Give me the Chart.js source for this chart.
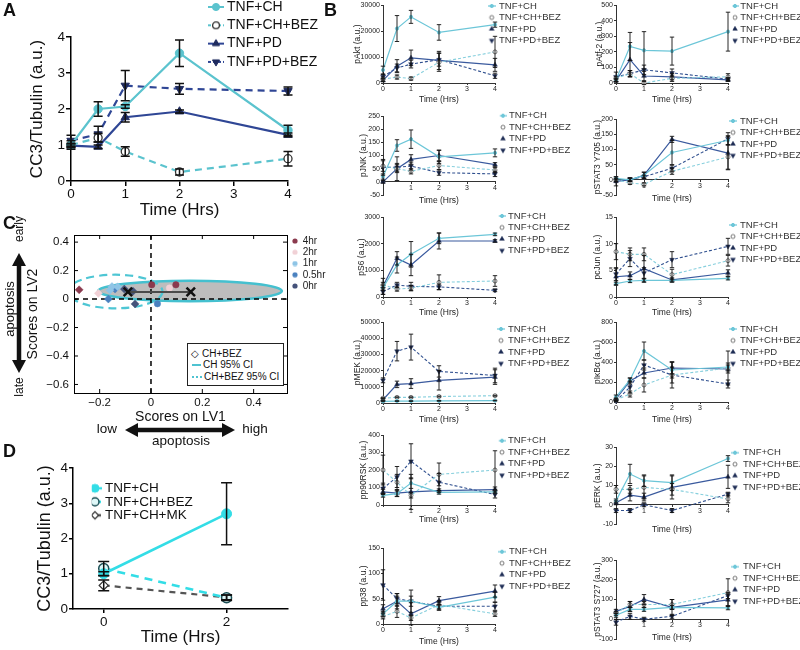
<!DOCTYPE html>
<html><head><meta charset="utf-8"><title>CC3 / signalling figure</title>
<script src="https://cdn.jsdelivr.net/npm/chart.js"></script>
<style>
html,body{margin:0;padding:0;background:#fff;}
#wrap{position:relative;width:800px;height:650px;overflow:hidden;background:#fff;font-family:"Liberation Sans",Arial,sans-serif;color:#111;}
#wrap canvas{position:absolute;}
.t{position:absolute;white-space:nowrap;line-height:1;z-index:5;}
.c{transform:translate(-50%,-50%);}
.r{transform:translate(-50%,-50%) rotate(-90deg);}
.v{transform:translateY(-50%);}
.pl{position:absolute;font-weight:bold;font-size:18px;line-height:1;z-index:5;}
#cleg{position:absolute;left:187px;top:343px;width:95px;height:41px;border:1px solid #222;background:#fff;font-size:10px;z-index:5;}
</style></head><body>
<div id="wrap">
 <div class="pl" style="left:3px;top:1px">A</div>
 <div class="pl" style="left:324px;top:1px">B</div>
 <div class="pl" style="left:3px;top:214px">C</div>
 <div class="pl" style="left:3px;top:442px">D</div>
 <div class="t r" style="left:19px;top:229px;font-size:12px">early</div>
 <div class="t r" style="left:9px;top:309px;font-size:13px">apoptosis</div>
 <div class="t r" style="left:19px;top:387px;font-size:12px">late</div>
 <div class="t c" style="left:107px;top:429px;font-size:13.5px">low</div>
 <div class="t c" style="left:255px;top:429px;font-size:13.5px">high</div>
 <div class="t c" style="left:181px;top:441px;font-size:13.5px">apoptosis</div>
 <div id="cleg">
   <div class="t v" style="left:3px;top:10px;font-size:10px;font-family:'DejaVu Sans'">&#9671;</div>
   <div class="t v" style="left:14px;top:10px">CH+BEZ</div>
   <div style="position:absolute;left:4px;top:20px;width:9px;border-top:2px solid #4ec3d1"></div>
   <div class="t v" style="left:15px;top:21px">CH 95% CI</div>
   <div style="position:absolute;left:4px;top:32px;width:10px;border-top:2px dotted #4ec3d1"></div>
   <div class="t v" style="left:16px;top:33px">CH+BEZ 95% CI</div>
 </div>
</div>
<script>
// ================= DATA =================
const hours = [0, 0.5, 1, 2, 4];
const seriesNames = ['TNF+CH', 'TNF+CH+BEZ', 'TNF+PD', 'TNF+PD+BEZ'];
const B_xticks = [0, 1, 2, 3, 4];

// Panel A : CC3/Tubulin
const A_xticks = [0, 1, 2, 3, 4];
const A_yticks = [0, 1, 2, 3, 4];
const A_CH = [1.0, 2.0, 2.07, 3.55, 1.41];
const A_CH_err = [0.05, 0.2, 0.05, 0.37, 0.14];
const A_CHBEZ = [1.0, 1.2, 0.82, 0.25, 0.62];
const A_CHBEZ_err = [0.12, 0.12, 0.13, 0.08, 0.2];
const A_PD = [0.98, 0.95, 1.77, 1.93, 1.28];
const A_PD_err = [0.05, 0.05, 0.13, 0.04, 0.05];
const A_PDBEZ = [1.12, 1.3, 2.65, 2.56, 2.5];
const A_PDBEZ_err = [0.15, 0.22, 0.42, 0.15, 0.11];

// Panel D
const D_hours = [0, 2];
const D_xticks = [0, 2];
const D_yticks = [0, 1, 2, 3, 4];
const D_names = ['TNF+CH', 'TNF+CH+BEZ', 'TNF+CH+MK'];
const D_CH = [1.0, 2.7];
const D_CH_err = [0.06, 0.88];
const D_CHBEZ = [1.15, 0.32];
const D_CHBEZ_err = [0.2, 0.08];
const D_CHMK = [0.67, 0.33];
const D_CHMK_err = [0.15, 0.07];

// Panel C : PLS scores
const C_times = ['4hr', '2hr', '1hr', '0.5hr', '0hr'];
const C_BEZ_4hr = [[-0.28, 0.065]];
const C_CH_4hr = [[0.003, 0.1], [0.097, 0.1]];
const C_BEZ_2hr = [[-0.205, 0.04]];
const C_CH_2hr = [[0.072, 0.078]];
const C_BEZ_1hr = [[-0.152, 0.088], [-0.13, 0.086], [-0.16, 0.062]];
const C_CH_1hr = [];
const C_BEZ_05hr = [[-0.166, 0.0], [-0.14, 0.07]];
const C_CH_05hr = [[0.025, -0.033]];
const C_BEZ_0hr = [[-0.104, 0.07], [-0.062, -0.034], [-0.07, 0.055]];
const C_CH_0hr = [];
const C_centroids = [[-0.09, 0.05], [0.155, 0.05]];
const C_ellipse_CH = [0.152, 0.057, 0.358, 0.072];   // centre x, centre y, half-width, half-height
const C_ellipse_BEZ = [-0.139, 0.053, 0.184, 0.118];
const C_xticks = [-0.2, 0, 0.2, 0.4];
const C_yticks = [-0.6, -0.4, -0.2, 0, 0.2, 0.4];

// Panel B
const pAkt_ticks = [0, 10000, 20000, 30000];
const pAkt_CH = [5000, 21000, 25500, 19500, 22500];
const pAkt_CH_e = [1500, 5000, 2500, 3000, 1000];
const pAkt_CHBEZ = [1500, 2300, 1700, 8000, 12000];
const pAkt_CHBEZ_e = [800, 800, 600, 3500, 6000];
const pAkt_PD = [1000, 6500, 9700, 8700, 7000];
const pAkt_PD_e = [500, 2500, 3000, 3500, 2500];
const pAkt_PDBEZ = [2500, 5800, 7300, 9000, 2800];
const pAkt_PDBEZ_e = [800, 1500, 1500, 2500, 1000];

const pAtf2_ticks = [0, 100, 200, 300, 400, 500];
const pAtf2_CH = [20, 235, 210, 205, 330];
const pAtf2_CH_e = [10, 90, 120, 90, 125];
const pAtf2_CHBEZ = [30, 60, 0, 30, 40];
const pAtf2_CHBEZ_e = [10, 20, 10, 20, 20];
const pAtf2_PD = [15, 150, 45, 40, 20];
const pAtf2_PD_e = [10, 110, 30, 20, 10];
const pAtf2_PDBEZ = [40, 60, 85, 65, 25];
const pAtf2_PDBEZ_e = [30, 20, 30, 25, 10];

const pJNK_ticks = [-50, 0, 50, 100, 150, 200, 250];
const pJNK_CH = [20, 138, 162, 95, 110];
const pJNK_CH_e = [10, 22, 35, 25, 15];
const pJNK_CHBEZ = [60, 50, 40, 62, 45];
const pJNK_CHBEZ_e = [20, 15, 10, 15, 10];
const pJNK_PD = [0, 50, 85, 100, 65];
const pJNK_PD_e = [5, 45, 18, 20, 8];
const pJNK_PDBEZ = [55, 55, 60, 35, 30];
const pJNK_PDBEZ_e = [30, 15, 15, 10, 10];

const pY705_ticks = [-50, 0, 50, 100, 150, 200];
const pY705_CH = [5, 0, 15, 90, 130];
const pY705_CH_e = [5, 5, 10, 40, 15];
const pY705_CHBEZ = [0, -10, -15, 28, 75];
const pY705_CHBEZ_e = [5, 5, 5, 10, 40];
const pY705_PD = [-5, 0, 15, 133, 88];
const pY705_PD_e = [15, 5, 10, 10, 55];
const pY705_PDBEZ = [-2, 2, 10, 38, 135];
const pY705_PDBEZ_e = [5, 5, 5, 10, 20];

const pS6_ticks = [0, 1000, 2000, 3000];
const pS6_CH = [350, 1200, 1600, 2200, 2350];
const pS6_CH_e = [100, 300, 480, 200, 50];
const pS6_CHBEZ = [450, 300, 330, 550, 600];
const pS6_CHBEZ_e = [100, 80, 100, 280, 200];
const pS6_PD = [400, 1450, 1200, 2100, 2100];
const pS6_PD_e = [300, 250, 400, 300, 50];
const pS6_PDBEZ = [200, 450, 400, 380, 250];
const pS6_PDBEZ_e = [100, 100, 150, 100, 50];

const pcJun_ticks = [0, 5, 10, 15];
const pcJun_CH = [2.5, 3.0, 3.1, 3.1, 3.5];
const pcJun_CH_e = [0.3, 0.3, 0.3, 0.3, 0.3];
const pcJun_CHBEZ = [8.5, 8.0, 8.0, 4.2, 6.8];
const pcJun_CHBEZ_e = [1.5, 1.2, 1.2, 1.0, 1.0];
const pcJun_PD = [3.8, 4.0, 5.3, 3.2, 4.5];
const pcJun_PD_e = [1.5, 0.7, 2.5, 0.4, 0.6];
const pcJun_PDBEZ = [4.3, 7.2, 4.5, 7.0, 9.5];
const pcJun_PDBEZ_e = [1.2, 1.5, 1.0, 1.5, 1.5];

const pMEK_ticks = [0, 10000, 20000, 30000, 40000, 50000];
const pMEK_CH = [1000, 1200, 1200, 1300, 1500];
const pMEK_CH_e = [200, 200, 200, 200, 200];
const pMEK_CHBEZ = [3000, 3500, 3500, 4000, 4500];
const pMEK_CHBEZ_e = [300, 300, 300, 300, 300];
const pMEK_PD = [2000, 11500, 12000, 14000, 16000];
const pMEK_PD_e = [500, 2000, 3000, 6000, 4500];
const pMEK_PDBEZ = [14000, 32000, 34500, 19500, 17000];
const pMEK_PDBEZ_e = [1500, 6000, 8000, 3500, 4500];

const pIkBa_ticks = [0, 200, 400, 600, 800];
const pIkBa_CH = [50, 220, 510, 320, 350];
const pIkBa_CH_e = [20, 20, 90, 80, 40];
const pIkBa_CHBEZ = [20, 80, 170, 270, 340];
const pIkBa_CHBEZ_e = [10, 30, 70, 130, 170];
const pIkBa_PD = [30, 210, 290, 340, 330];
const pIkBa_PD_e = [10, 30, 50, 60, 40];
const pIkBa_PDBEZ = [10, 150, 370, 270, 180];
const pIkBa_PDBEZ_e = [5, 60, 50, 80, 40];

const pRSK_ticks = [0, 100, 200, 300, 400];
const pRSK_CH = [55, 65, 125, 72, 75];
const pRSK_CH_e = [10, 15, 30, 10, 10];
const pRSK_CHBEZ = [200, 130, 55, 175, 200];
const pRSK_CHBEZ_e = [85, 45, 15, 65, 110];
const pRSK_PD = [75, 68, 75, 82, 88];
const pRSK_PD_e = [15, 20, 100, 10, 15];
const pRSK_PDBEZ = [95, 160, 250, 130, 60];
const pRSK_PDBEZ_e = [30, 60, 100, 50, 20];

const pERK_ticks = [-10, 0, 10, 20, 30];
const pERK_CH = [2, 16, 12.5, 11.5, 24];
const pERK_CH_e = [1, 5, 3, 4, 1.5];
const pERK_CHBEZ = [8, 8, 9, 8, 3];
const pERK_CHBEZ_e = [2, 2, 6, 3, 2];
const pERK_PD = [1, 5, 4, 9, 14.5];
const pERK_PD_e = [1, 3, 2, 6, 6];
const pERK_PDBEZ = [-3, -3, 0, -3, 5.5];
const pERK_PDBEZ_e = [1, 1, 1, 1, 1];

const pp38_ticks = [0, 50, 100, 150];
const pp38_CH = [20, 45, 45, 33, 53];
const pp38_CH_e = [5, 10, 10, 5, 10];
const pp38_CHBEZ = [15, 25, 12, 38, 20];
const pp38_CHBEZ_e = [5, 12, 5, 8, 5];
const pp38_PD = [30, 45, 20, 46, 65];
const pp38_PD_e = [8, 15, 22, 8, 12];
const pp38_PDBEZ = [77, 50, 45, 35, 35];
const pp38_PDBEZ_e = [30, 10, 22, 8, 8];

const pS727_ticks = [-100, 0, 100, 200, 300];
const pS727_CH = [20, 50, 50, 60, 58];
const pS727_CH_e = [10, 10, 10, 10, 10];
const pS727_CHBEZ = [30, 75, 75, 75, 135];
const pS727_CHBEZ_e = [10, 15, 15, 25, 70];
const pS727_PD = [40, 65, 100, 60, 98];
const pS727_PD_e = [10, 25, 25, 40, 30];
const pS727_PDBEZ = [-15, 15, 0, 15, 120];
const pS727_PDBEZ_e = [15, 15, 10, 10, 15];

// ================= HELPERS =================
Chart.defaults.font.family = '"Liberation Sans", Arial, sans-serif';
Chart.defaults.color = '#111';
const wrap = document.getElementById('wrap');

function makeCanvas(box) {
  const c = document.createElement('canvas');
  c.width = box.w; c.height = box.h;
  c.style.left = box.x + 'px'; c.style.top = box.y + 'px';
  c.style.width = box.w + 'px'; c.style.height = box.h + 'px';
  wrap.appendChild(c);
  return c;
}

function drawMarker(ctx, style, x, y, r, fill, stroke, lw) {
  ctx.save();
  ctx.setLineDash([]);
  ctx.beginPath();
  if (style === 'circle') ctx.arc(x, y, r, 0, Math.PI * 2);
  else if (style === 'triangle') { ctx.moveTo(x, y - r); ctx.lineTo(x + r * 0.866, y + r * 0.5); ctx.lineTo(x - r * 0.866, y + r * 0.5); ctx.closePath(); }
  else if (style === 'triangleDown') { ctx.moveTo(x, y + r); ctx.lineTo(x + r * 0.866, y - r * 0.5); ctx.lineTo(x - r * 0.866, y - r * 0.5); ctx.closePath(); }
  else if (style === 'rectRot') { ctx.moveTo(x, y - r); ctx.lineTo(x + r, y); ctx.lineTo(x, y + r); ctx.lineTo(x - r, y); ctx.closePath(); }
  if (fill) { ctx.fillStyle = fill; ctx.fill(); }
  if (stroke && lw) { ctx.strokeStyle = stroke; ctx.lineWidth = lw; ctx.stroke(); }
  ctx.restore();
}

function makeSym(o) {
  const c = document.createElement('canvas');
  c.width = o.w; c.height = o.h;
  const ctx = c.getContext('2d');
  const cy = o.h / 2;
  if (o.lw) {
    ctx.strokeStyle = o.color; ctx.lineWidth = o.lw; ctx.setLineDash(o.dash || []);
    ctx.beginPath(); ctx.moveTo(0, cy); ctx.lineTo(o.w, cy); ctx.stroke();
  }
  if (o.marker) drawMarker(ctx, o.marker, o.w / 2, cy, o.r, o.fill, o.stroke, o.mlw);
  return c;
}

const errBarPlugin = {
  id: 'errbars',
  afterDatasetsDraw(chart, args, opts) {
    if (!opts || !opts.cap) return;
    const ctx = chart.ctx, ys = chart.scales.y;
    ctx.save();
    ctx.strokeStyle = opts.color; ctx.lineWidth = opts.width; ctx.setLineDash([]);
    chart.data.datasets.forEach((ds, i) => {
      if (!ds.errors) return;
      const meta = chart.getDatasetMeta(i);
      meta.data.forEach((pt, j) => {
        const e = ds.errors[j];
        if (!e) return;
        const v = ds.data[j].y;
        const x = pt.x;
        const y1 = ys.getPixelForValue(v + e), y2 = ys.getPixelForValue(v - e);
        ctx.beginPath();
        ctx.moveTo(x, y1); ctx.lineTo(x, y2);
        ctx.moveTo(x - opts.cap, y1); ctx.lineTo(x + opts.cap, y1);
        ctx.moveTo(x - opts.cap, y2); ctx.lineTo(x + opts.cap, y2);
        ctx.stroke();
      });
    });
    ctx.restore();
  }
};

function placeLegend(chart, opts) {
  const L = chart.legend;
  if (!L || !opts || opts.left === undefined) return;
  L.left = opts.left; L.top = opts.top;
  L.width = 300; L.height = 300; L.right = opts.left + 300; L.bottom = opts.top + 300;
}
const legendPlacePlugin = {
  id: 'legendPlace',
  afterLayout(chart, args, opts) { placeLegend(chart, opts); },
  beforeDraw(chart, args, opts) { placeLegend(chart, opts); }
};

function lineSet(label, xs, ys, errs, st) {
  return {
    label: label,
    data: xs.map((x, i) => ({x: x, y: ys[i]})),
    errors: errs,
    borderColor: st.color, backgroundColor: st.color, borderWidth: st.lw, borderDash: st.dash,
    pointStyle: st.marker === 'triangleDown' ? 'triangle' : st.marker,
    pointRotation: st.marker === 'triangleDown' ? 180 : 0,
    pointRadius: st.r, pointBackgroundColor: st.fill, pointBorderColor: st.stroke, pointBorderWidth: st.mlw,
    tension: 0, fill: false, clip: 8,
    legendSym: makeSym(st.sym)
  };
}

function buildChart(o) {
  const tlh = o.titleFont * 1.2;
  const ytlh = (o.yTitleFont || o.titleFont) * 1.2;
  const offX = tlh / 2 + 1;
  const bx = o.box.x, by = o.box.y;
  const h = o.box.h || Math.ceil(o.xTitleY + offX + 1 - by);
  const c = makeCanvas({x: bx, y: by, w: o.box.w, h: h});
  const canvasBottom = by + h;
  let xAxisH, padBottom;
  if (o.zeroAxis) {
    const pix0 = o.plot.t + (o.yMax / (o.yMax - o.yMin)) * (o.plot.b - o.plot.t);
    xAxisH = o.xTitleY - pix0 + offX;
    padBottom = canvasBottom - o.plot.b;
  } else {
    padBottom = canvasBottom - (o.xTitleY + offX);
    xAxisH = (o.xTitleY + offX) - o.plot.b;
  }
  const yAxisW = o.plot.l - bx;
  const yTitlePadTop = o.yTitleX - bx - ytlh / 2;
  const padTop = o.plot.t - by;
  const padRight = bx + o.box.w - o.plot.r;
  const color = o.textColor || '#111';
  const L = o.legend;
  const boxW = Math.max(1, 2 * (L.tx - L.mx - L.f / 2));
  const legendLeft = L.mx - boxW / 2 - L.pad - bx;
  const legendTop = L.y0 - L.pad - L.f / 2 - by;
  const lcolor = L.color || color;
  const gridCfg = o.gridOff ? {display: false, drawTicks: false} :
    {display: true, drawOnChartArea: false, drawTicks: true, tickLength: o.tickLen, color: o.axisColor, lineWidth: o.axisWidth};
  const borderCfg = o.gridOff ? {display: false} : {display: true, color: o.axisColor, width: o.axisWidth};
  const cfg = {
    type: o.type || 'line',
    data: {datasets: o.datasets},
    options: {
      responsive: false, animation: false, events: [],
      layout: {padding: {left: 0, top: padTop, right: padRight, bottom: padBottom}},
      plugins: {
        legend: {
          display: true, position: 'chartArea', align: 'start',
          labels: {
            usePointStyle: true, pointStyleWidth: boxW, boxHeight: L.f, padding: L.pad,
            font: {size: L.f}, color: lcolor,
            generateLabels: (chart) => chart.data.datasets.map((ds, i) => ds.legendSym ? {
              text: ds.label, pointStyle: ds.legendSym, datasetIndex: i, hidden: false,
              fillStyle: 'rgba(0,0,0,0)', strokeStyle: 'rgba(0,0,0,0)', lineWidth: 0, fontColor: lcolor
            } : null).filter(x => x)
          }
        },
        tooltip: {enabled: false},
        legendPlace: {left: legendLeft, top: legendTop},
        errbars: o.eb || {}
      },
      scales: {
        x: {
          type: 'linear', min: o.xMin, max: o.xMax,
          position: o.zeroAxis ? {y: 0} : 'bottom',
          afterBuildTicks: s => { s.ticks = o.xTicks.map(v => ({value: v})); },
          afterFit: s => { s.height = xAxisH; },
          ticks: {font: {size: o.tickFont}, color: color, padding: o.xTickPad, maxRotation: 0, autoSkip: false,
                  callback: o.xTickCb || (v => String(v))},
          grid: gridCfg, border: borderCfg,
          title: {display: true, text: o.xTitle, font: {size: o.titleFont}, color: color, padding: {top: 0, bottom: 1}}
        },
        y: {
          type: 'linear', min: o.yMin, max: o.yMax, position: 'left',
          afterBuildTicks: s => { s.ticks = o.yTicks.map(v => ({value: v})); },
          afterFit: s => { s.width = yAxisW; },
          ticks: {font: {size: o.tickFont}, color: color, padding: o.yTickPad, autoSkip: false,
                  callback: o.yTickCb || (v => String(v))},
          grid: gridCfg, border: borderCfg,
          title: {display: true, text: o.yTitle, font: {size: o.yTitleFont || o.titleFont}, color: color,
                  padding: {top: yTitlePadTop, bottom: 0}}
        }
      }
    },
    plugins: [errBarPlugin, legendPlacePlugin].concat(o.plugins || [])
  };
  return new Chart(c, cfg);
}

// ================= PANEL A =================
const A_cyan = '#5bc3ce', A_navy = '#2f4695', A_dark = '#1f2b5e';
const A_styles = [
  {color: A_cyan, lw: 2.2, dash: [], marker: 'circle', r: 4.2, fill: A_cyan, stroke: A_cyan, mlw: 1},
  {color: A_cyan, lw: 2.2, dash: [7, 5], marker: 'circle', r: 4, fill: '#fff', stroke: '#333', mlw: 1.3},
  {color: A_navy, lw: 2.2, dash: [], marker: 'triangle', r: 4.8, fill: A_dark, stroke: A_dark, mlw: 1},
  {color: A_navy, lw: 2.2, dash: [7, 5], marker: 'triangleDown', r: 4.8, fill: A_dark, stroke: A_dark, mlw: 1}
];
A_styles.forEach(s => { s.sym = {w: 16, h: 12, color: s.color, lw: 2, dash: s.dash.length ? [3, 2] : [], marker: s.marker, r: s.r * 0.85, fill: s.fill, stroke: s.stroke, mlw: s.mlw}; });
buildChart({
  box: {x: 0, y: 0, w: 335},
  plot: {l: 71, r: 288, t: 37, b: 181},
  xMin: 0, xMax: 4, xTicks: A_xticks, yMin: 0, yMax: 4, yTicks: A_yticks,
  xTitle: 'Time (Hrs)', yTitle: 'CC3/Tubulin (a.u.)', titleFont: 17, yTitleFont: 17, tickFont: 13.5,
  yTitleX: 37, xTitleY: 210, axisColor: '#000', axisWidth: 1.5, tickLen: 5, xTickPad: 0, yTickPad: 1,
  datasets: [
    lineSet(seriesNames[0], hours, A_CH, A_CH_err, A_styles[0]),
    lineSet(seriesNames[1], hours, A_CHBEZ, A_CHBEZ_err, A_styles[1]),
    lineSet(seriesNames[2], hours, A_PD, A_PD_err, A_styles[2]),
    lineSet(seriesNames[3], hours, A_PDBEZ, A_PDBEZ_err, A_styles[3])
  ],
  legend: {f: 14, pad: 4.3, mx: 216, tx: 227, y0: 7, color: '#111'},
  eb: {cap: 4.5, width: 1.5, color: '#111'}
});

// ================= PANEL D =================
const D_cyan = '#33dde6';
const D_styles = [
  {color: D_cyan, lw: 2.6, dash: [], marker: 'circle', r: 5, fill: D_cyan, stroke: D_cyan, mlw: 1},
  {color: D_cyan, lw: 2.6, dash: [8, 6], marker: 'circle', r: 5, fill: '#dff8f8', stroke: '#1c4f55', mlw: 1.5},
  {color: '#555', lw: 2.2, dash: [6, 5], marker: 'rectRot', r: 4.5, fill: '#fff', stroke: '#333', mlw: 1.3}
];
D_styles.forEach(s => { s.sym = {w: 14, h: 12, color: s.color, lw: 2.4, dash: s.dash.length ? [3, 2] : [], marker: s.marker, r: s.r * 0.8, fill: s.fill, stroke: s.stroke, mlw: s.mlw}; });
buildChart({
  box: {x: 0, y: 448, w: 300},
  plot: {l: 73, r: 288, t: 468, b: 609},
  xMin: -0.5, xMax: 3, xTicks: D_xticks, yMin: 0, yMax: 4, yTicks: D_yticks,
  xTitle: 'Time (Hrs)', yTitle: 'CC3/Tubulin (a.u.)', titleFont: 17, yTitleFont: 18, tickFont: 13.5,
  yTitleX: 45, xTitleY: 637, axisColor: '#000', axisWidth: 1.5, tickLen: 4, xTickPad: 1, yTickPad: 1,
  datasets: [
    lineSet(D_names[0], D_hours, D_CH, D_CH_err, D_styles[0]),
    lineSet(D_names[1], D_hours, D_CHBEZ, D_CHBEZ_err, D_styles[1]),
    lineSet(D_names[2], D_hours, D_CHMK, D_CHMK_err, D_styles[2])
  ],
  legend: {f: 13.5, pad: 0, mx: 95, tx: 105, y0: 488.3, color: '#111'},
  eb: {cap: 5.5, width: 1.5, color: '#111'}
});

// ================= PANEL C =================
const C_colors = ['#8b3a4e', '#f1d1d6', '#8fc5e6', '#4a81bf', '#45527a'];
function cTimeSet(label, bez, ch, color) {
  const pts = bez.concat(ch);
  return {
    type: 'scatter', label: label,
    data: pts.map(p => ({x: p[0], y: p[1]})),
    pointStyle: bez.map(() => 'rectRot').concat(ch.map(() => 'circle')),
    pointRadius: bez.map(() => 4).concat(ch.map(() => 3.2)),
    backgroundColor: color, borderColor: color, borderWidth: 0.5,
    showLine: false, clip: 6,
    legendSym: makeSym({w: 6, h: 6, marker: 'circle', r: 2.6, fill: color})
  };
}
const cDeco = {
  id: 'cdeco',
  beforeDatasetsDraw(chart) {
    const ctx = chart.ctx, a = chart.chartArea, x = chart.scales.x, y = chart.scales.y;
    ctx.save();
    ctx.beginPath(); ctx.rect(a.left, a.top, a.right - a.left, a.bottom - a.top); ctx.clip();
    const ell = (e) => {
      const px = x.getPixelForValue(e[0]), py = y.getPixelForValue(e[1]);
      const rx = Math.abs(x.getPixelForValue(e[0] + e[2]) - px), ry = Math.abs(y.getPixelForValue(e[1] + e[3]) - py);
      ctx.beginPath(); ctx.ellipse(px, py, rx, ry, 0, 0, Math.PI * 2);
    };
    ell(C_ellipse_CH); ctx.setLineDash([]); ctx.fillStyle = '#bdbdbd'; ctx.fill();
    ctx.strokeStyle = '#45c0cf'; ctx.lineWidth = 2.6; ctx.stroke();
    ell(C_ellipse_BEZ); ctx.setLineDash([8, 5]); ctx.strokeStyle = '#4ec6d4'; ctx.lineWidth = 2.2; ctx.stroke();
    ctx.setLineDash([5, 4]); ctx.strokeStyle = '#000'; ctx.lineWidth = 1.5;
    const x0 = x.getPixelForValue(0), y0 = y.getPixelForValue(0);
    ctx.beginPath(); ctx.moveTo(x0, a.top); ctx.lineTo(x0, a.bottom); ctx.moveTo(a.left, y0); ctx.lineTo(a.right, y0); ctx.stroke();
    ctx.restore();
  },
  afterDatasetsDraw(chart) {
    const ctx = chart.ctx, a = chart.chartArea, x = chart.scales.x, y = chart.scales.y;
    ctx.save();
    ctx.setLineDash([]); ctx.strokeStyle = '#000'; ctx.lineWidth = 1;
    ctx.strokeRect(Math.round(a.left) + 0.5, Math.round(a.top) + 0.5, Math.round(a.right - a.left), Math.round(a.bottom - a.top));
    ctx.beginPath();
    C_xticks.forEach(v => { const p = x.getPixelForValue(v); ctx.moveTo(p, a.bottom); ctx.lineTo(p, a.bottom - 4); ctx.moveTo(p, a.top); ctx.lineTo(p, a.top + 4); });
    C_yticks.forEach(v => { const p = y.getPixelForValue(v); ctx.moveTo(a.left, p); ctx.lineTo(a.left + 4, p); ctx.moveTo(a.right, p); ctx.lineTo(a.right - 4, p); });
    ctx.stroke();
    ctx.restore();
  },
  afterDraw(chart) {
    const ctx = chart.ctx;
    const ox = 0, oy = 215;
    function dbl(x1, y1, x2, y2) {
      const dx = x2 - x1, dy = y2 - y1, len = Math.hypot(dx, dy), ux = dx / len, uy = dy / len;
      const hl = 13, hw = 7;
      ctx.save(); ctx.fillStyle = '#111'; ctx.strokeStyle = '#111'; ctx.lineWidth = 4.5;
      ctx.beginPath(); ctx.moveTo(x1 + ux * hl * 0.8, y1 + uy * hl * 0.8); ctx.lineTo(x2 - ux * hl * 0.8, y2 - uy * hl * 0.8); ctx.stroke();
      [[x1, y1, 1], [x2, y2, -1]].forEach(([px, py, s]) => {
        ctx.beginPath(); ctx.moveTo(px, py);
        ctx.lineTo(px + s * ux * hl - uy * hw, py + s * uy * hl + ux * hw);
        ctx.lineTo(px + s * ux * hl + uy * hw, py + s * uy * hl - ux * hw);
        ctx.closePath(); ctx.fill();
      });
      ctx.restore();
    }
    dbl(19 - ox, 253 - oy, 19 - ox, 373 - oy);
    dbl(125 - ox, 430 - oy, 235 - ox, 430 - oy);
  }
};
const cFmt = v => v === 0 ? '0' : (v < 0 ? '\u2212' : '') + Math.abs(v).toFixed(1);
buildChart({
  type: 'scatter',
  box: {x: 0, y: 215, w: 335, h: 235},
  plot: {l: 74, r: 287, t: 235, b: 393},
  xMin: -0.3, xMax: 0.53, xTicks: C_xticks, yMin: -0.66, yMax: 0.45, yTicks: C_yticks,
  xTickCb: cFmt, yTickCb: cFmt,
  xTitle: 'Scores on LV1', yTitle: 'Scores on LV2', titleFont: 14, yTitleFont: 14, tickFont: 11.5,
  yTitleX: 33, xTitleY: 417.5, gridOff: true, xTickPad: 3, yTickPad: 5,
  datasets: [
    {type: 'line', label: 'centroid', data: C_centroids.map(p => ({x: p[0], y: p[1]})),
     borderColor: '#4a4a4a', borderWidth: 2, pointStyle: 'crossRot', pointRadius: 6,
     pointBorderColor: '#111', pointBorderWidth: 2.5, pointBackgroundColor: '#111', showLine: true, clip: 6},
    cTimeSet(C_times[0], C_BEZ_4hr, C_CH_4hr, C_colors[0]),
    cTimeSet(C_times[1], C_BEZ_2hr, C_CH_2hr, C_colors[1]),
    cTimeSet(C_times[2], C_BEZ_1hr, C_CH_1hr, C_colors[2]),
    cTimeSet(C_times[3], C_BEZ_05hr, C_CH_05hr, C_colors[3]),
    cTimeSet(C_times[4], C_BEZ_0hr, C_CH_0hr, C_colors[4])
  ],
  legend: {f: 10, pad: 1.25, mx: 295, tx: 302.7, y0: 241, color: '#222'},
  plugins: [cDeco]
});

// ================= PANEL B =================
const B_cyan = '#6cc6d8', B_cyan2 = '#86cfdd', B_navy = '#3a5a9e', B_navy2 = '#30508f', B_dark = '#1e2d55';
const B_styles = [
  {color: B_cyan, lw: 1.2, dash: [], marker: 'circle', r: 1.6, fill: B_cyan, stroke: B_cyan, mlw: 1},
  {color: B_cyan2, lw: 1.1, dash: [3, 2], marker: 'circle', r: 2, fill: '#fff', stroke: '#555', mlw: 0.8},
  {color: B_navy, lw: 1.2, dash: [], marker: 'triangle', r: 2.7, fill: B_dark, stroke: B_dark, mlw: 0.5},
  {color: B_navy2, lw: 1.1, dash: [3, 2], marker: 'triangleDown', r: 2.7, fill: B_dark, stroke: B_dark, mlw: 0.5}
];
B_styles.forEach((s, i) => { s.sym = {w: 8, h: 8, color: s.color, lw: i === 0 ? 1.2 : 0, dash: [], marker: s.marker, r: s.r, fill: s.fill, stroke: s.stroke, mlw: s.mlw}; });

const B_panels = [
  {title: 'pAkt (a.u.)', col: 0, t: 4, b: 83, ymin: 0, ymax: 30000, yt: pAkt_ticks, ytx: 358, xty: 99.5, zero: false, hide0: false, lg: [491.7, 499, 6],
   s: [pAkt_CH, pAkt_CHBEZ, pAkt_PD, pAkt_PDBEZ], e: [pAkt_CH_e, pAkt_CHBEZ_e, pAkt_PD_e, pAkt_PDBEZ_e]},
  {title: 'pAtf-2 (a.u.)', col: 1, t: 3, b: 83, ymin: 0, ymax: 500, yt: pAtf2_ticks, ytx: 600, xty: 99.5, zero: false, hide0: false, lg: [735, 740, 6],
   s: [pAtf2_CH, pAtf2_CHBEZ, pAtf2_PD, pAtf2_PDBEZ], e: [pAtf2_CH_e, pAtf2_CHBEZ_e, pAtf2_PD_e, pAtf2_PDBEZ_e]},
  {title: 'pJNK (a.u.)', col: 0, t: 116, b: 195, ymin: -50, ymax: 250, yt: pJNK_ticks, ytx: 364, xty: 200.5, zero: true, hide0: true, lg: [503, 509, 115.7],
   s: [pJNK_CH, pJNK_CHBEZ, pJNK_PD, pJNK_PDBEZ], e: [pJNK_CH_e, pJNK_CHBEZ_e, pJNK_PD_e, pJNK_PDBEZ_e]},
  {title: 'pSTAT3 Y705 (a.u.)', col: 1, t: 119, b: 195, ymin: -50, ymax: 200, yt: pY705_ticks, ytx: 598, xty: 198.5, zero: true, hide0: true, lg: [733, 740, 121],
   s: [pY705_CH, pY705_CHBEZ, pY705_PD, pY705_PDBEZ], e: [pY705_CH_e, pY705_CHBEZ_e, pY705_PD_e, pY705_PDBEZ_e]},
  {title: 'pS6 (a.u.)', col: 0, t: 217, b: 297, ymin: 0, ymax: 3000, yt: pS6_ticks, ytx: 362, xty: 313, zero: false, hide0: false, lg: [502, 508, 216],
   s: [pS6_CH, pS6_CHBEZ, pS6_PD, pS6_PDBEZ], e: [pS6_CH_e, pS6_CHBEZ_e, pS6_PD_e, pS6_PDBEZ_e]},
  {title: 'pcJun (a.u.)', col: 1, t: 217, b: 297, ymin: 0, ymax: 15, yt: pcJun_ticks, ytx: 598, xty: 313, zero: false, hide0: false, lg: [733, 740, 225],
   s: [pcJun_CH, pcJun_CHBEZ, pcJun_PD, pcJun_PDBEZ], e: [pcJun_CH_e, pcJun_CHBEZ_e, pcJun_PD_e, pcJun_PDBEZ_e]},
  {title: 'pMEK (a.u.)', col: 0, t: 322, b: 403, ymin: 0, ymax: 50000, yt: pMEK_ticks, ytx: 358, xty: 420, zero: false, hide0: false, lg: [501, 508, 329],
   s: [pMEK_CH, pMEK_CHBEZ, pMEK_PD, pMEK_PDBEZ], e: [pMEK_CH_e, pMEK_CHBEZ_e, pMEK_PD_e, pMEK_PDBEZ_e]},
  {title: 'pI\u03baB\u03b1 (a.u.)', col: 1, t: 322, b: 402, ymin: 0, ymax: 800, yt: pIkBa_ticks, ytx: 598, xty: 420, zero: false, hide0: false, lg: [733, 740, 329],
   s: [pIkBa_CH, pIkBa_CHBEZ, pIkBa_PD, pIkBa_PDBEZ], e: [pIkBa_CH_e, pIkBa_CHBEZ_e, pIkBa_PD_e, pIkBa_PDBEZ_e]},
  {title: 'pp90RSK (a.u.)', col: 0, t: 435, b: 505, ymin: 0, ymax: 400, yt: pRSK_ticks, ytx: 364, xty: 520, zero: false, hide0: true, lg: [502, 508, 440.7],
   s: [pRSK_CH, pRSK_CHBEZ, pRSK_PD, pRSK_PDBEZ], e: [pRSK_CH_e, pRSK_CHBEZ_e, pRSK_PD_e, pRSK_PDBEZ_e]},
  {title: 'pERK (a.u.)', col: 1, t: 447, b: 524, ymin: -10, ymax: 30, yt: pERK_ticks, ytx: 598, xty: 530, zero: true, hide0: true, lg: [735, 743, 452.7],
   s: [pERK_CH, pERK_CHBEZ, pERK_PD, pERK_PDBEZ], e: [pERK_CH_e, pERK_CHBEZ_e, pERK_PD_e, pERK_PDBEZ_e]},
  {title: 'pp38 (a.u.)', col: 0, t: 548, b: 624, ymin: 0, ymax: 150, yt: pp38_ticks, ytx: 364, xty: 642, zero: false, hide0: false, lg: [502, 509, 551.7],
   s: [pp38_CH, pp38_CHBEZ, pp38_PD, pp38_PDBEZ], e: [pp38_CH_e, pp38_CHBEZ_e, pp38_PD_e, pp38_PDBEZ_e]},
  {title: 'pSTAT3 S727 (a.u.)', col: 1, t: 560, b: 639, ymin: -100, ymax: 300, yt: pS727_ticks, ytx: 598, xty: 638, zero: true, hide0: true, lg: [735, 743, 566.7],
   s: [pS727_CH, pS727_CHBEZ, pS727_PD, pS727_PDBEZ], e: [pS727_CH_e, pS727_CHBEZ_e, pS727_PD_e, pS727_PDBEZ_e]}
];

B_panels.forEach(p => {
  const left = p.col === 0;
  const plot = {l: left ? 383 : 616, r: left ? 495 : 728, t: p.t, b: p.b};
  const bx = Math.floor(p.ytx - 5.1 - 1);
  const by = Math.max(0, Math.floor(Math.min(p.t, p.lg[2] - 6) - 6));
  const w = (left ? 592 : 800) - bx;
  buildChart({
    box: {x: bx, y: by, w: w},
    plot: plot,
    xMin: 0, xMax: 4, xTicks: B_xticks, xTickCb: p.hide0 ? (v => v === 0 ? '' : String(v)) : (v => String(v)),
    yMin: p.ymin, yMax: p.ymax, yTicks: p.yt,
    xTitle: 'Time (Hrs)', yTitle: p.title, titleFont: 8.5, yTitleFont: 8.5, tickFont: 7,
    yTitleX: p.ytx, xTitleY: p.xty, zeroAxis: p.zero, textColor: '#222',
    axisColor: '#333', axisWidth: 1, tickLen: 2, xTickPad: 0, yTickPad: 1,
    datasets: p.s.map((vals, i) => lineSet(seriesNames[i], hours, vals, p.e[i], B_styles[i])),
    legend: {f: 9.5, pad: 2, mx: p.lg[0], tx: p.lg[1], y0: p.lg[2], color: '#333'},
    eb: {cap: 2.2, width: 0.9, color: '#111'}
  });
});
</script>
</body></html>
